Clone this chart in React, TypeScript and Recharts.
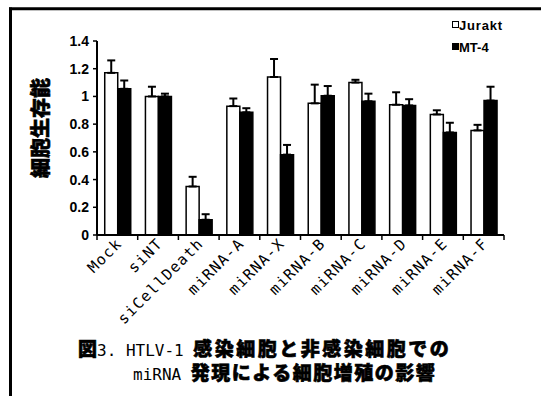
import { Bar, BarChart, ErrorBar, XAxis, YAxis } from "recharts";

const categories = [
  "Mock",
  "siNT",
  "siCellDeath",
  "miRNA-A",
  "miRNA-X",
  "miRNA-B",
  "miRNA-C",
  "miRNA-D",
  "miRNA-E",
  "miRNA-F",
];
const jurakt = [1.17, 1.0, 0.35, 0.93, 1.14, 0.95, 1.1, 0.94, 0.87, 0.755];
const juraktErr = [0.09, 0.07, 0.07, 0.055, 0.13, 0.135, 0.02, 0.09, 0.03, 0.04];
const mt4 = [1.055, 1.0, 0.11, 0.885, 0.58, 1.005, 0.965, 0.935, 0.74, 0.97];
const mt4Err = [0.06, 0.02, 0.04, 0.03, 0.07, 0.07, 0.055, 0.045, 0.07, 0.1];
const yTicks = [0, 0.2, 0.4, 0.6, 0.8, 1, 1.2, 1.4];

const data = categories.map((name, i) => ({
  name,
  jurakt: jurakt[i],
  juraktErr: [0, juraktErr[i]],
  mt4: mt4[i],
  mt4Err: [0, mt4Err[i]],
}));

const W = 541;
const H = 396;
const PLOT_LEFT = 97;
const PLOT_RIGHT = 504;
const PLOT_TOP = 41;
const PLOT_BOTTOM = 235;
const X_AXIS_H = 40;
const BAND = (PLOT_RIGHT - PLOT_LEFT) / categories.length;

const MONO = "'DejaVu Sans Mono', 'Liberation Mono', monospace";
const CJK = "'Noto Sans CJK JP', sans-serif";
const SANS = "'Liberation Sans', Arial, sans-serif";

function CategoryTick(props: any) {
  const { x, y, payload, index } = props;
  const last = index === categories.length - 1;
  return (
    <g>
      <line x1={x - BAND / 2} y1={y} x2={x - BAND / 2} y2={y + 5} stroke="#000" strokeWidth={1.5} />
      {last && (
        <line x1={x + BAND / 2} y1={y} x2={x + BAND / 2} y2={y + 5} stroke="#000" strokeWidth={1.5} />
      )}
      <g transform={`translate(${x + 2}, ${y + 6}) rotate(-45)`}>
        <text
          x={0}
          y={0}
          textAnchor="end"
          dominantBaseline="central"
          fontFamily={MONO}
          fontSize={15}
          letterSpacing={1.3}
          fill="#000"
        >
          {payload.value}
        </text>
      </g>
    </g>
  );
}

export default function App() {
  return (
    <div style={{ position: "absolute", left: 0, top: 0, width: W, height: H, background: "#fff" }}>
      <BarChart
        width={W}
        height={H}
        data={data}
        margin={{
          top: PLOT_TOP,
          right: W - PLOT_RIGHT,
          left: PLOT_LEFT - 60,
          bottom: H - PLOT_BOTTOM - X_AXIS_H,
        }}
        barCategoryGap="19%"
        barGap={0}
      >
        <XAxis
          dataKey="name"
          height={X_AXIS_H}
          interval={0}
          tickSize={0}
          tickMargin={0}
          tickLine={false}
          axisLine={{ stroke: "#000", strokeWidth: 2 }}
          tick={<CategoryTick />}
        />
        <YAxis
          width={60}
          domain={[0, 1.4]}
          ticks={yTicks}
          interval={0}
          tickSize={4}
          tickMargin={4}
          axisLine={{ stroke: "#000", strokeWidth: 2 }}
          tickLine={{ stroke: "#000", strokeWidth: 1.5 }}
          tick={{ fill: "#000", fontSize: 14, fontWeight: 700, fontFamily: SANS }}
        />
        <Bar dataKey="jurakt" fill="#fff" stroke="#000" strokeWidth={1.5} isAnimationActive={false}>
          <ErrorBar dataKey="juraktErr" width={4} stroke="#000" strokeWidth={2} isAnimationActive={false} />
        </Bar>
        <Bar dataKey="mt4" fill="#000" stroke="#000" strokeWidth={1.5} isAnimationActive={false}>
          <ErrorBar dataKey="mt4Err" width={4} stroke="#000" strokeWidth={2} isAnimationActive={false} />
        </Bar>
      </BarChart>
      <svg
        width={W}
        height={H}
        style={{ position: "absolute", left: 0, top: 0, pointerEvents: "none" }}
      >
        {/* frame */}
        <line x1={10.5} y1={7.5} x2={10.5} y2={H} stroke="#000" strokeWidth={3} />
        <line x1={9} y1={8.7} x2={W} y2={8.7} stroke="#000" strokeWidth={3} />

        {/* y axis title */}
        <text
          x={39}
          y={128}
          transform="rotate(-90 39 128)"
          textAnchor="middle"
          dominantBaseline="central"
          fontFamily={CJK}
          fontSize={20}
          fontWeight={900}
          stroke="#000"
          strokeWidth={0.6}
          fill="#000"
        >
          細胞生存能
        </text>

        {/* legend */}
        <rect x={452.5} y={21.5} width={6} height={6} fill="#fff" stroke="#000" strokeWidth={1} />
        <text x={459} y={29.5} fontFamily={SANS} fontSize={13} fontWeight={700} letterSpacing={0.8} fill="#000">
          Jurakt
        </text>
        <rect x={452} y={43} width={7} height={7} fill="#000" />
        <text x={459} y={51.5} fontFamily={SANS} fontSize={13} fontWeight={700} fill="#000">
          MT-4
        </text>

        {/* caption */}
        <text x={78} y={356} fill="#000">
          <tspan fontFamily={CJK} fontSize={19} fontWeight={900} stroke="#000" strokeWidth={0.6}>
            図
          </tspan>
          <tspan fontFamily={MONO} fontSize={16}>
            3. HTLV-1{" "}
          </tspan>
          <tspan fontFamily={CJK} fontSize={19} fontWeight={900} stroke="#000" strokeWidth={0.6} letterSpacing={2.5}>
            感染細胞と非感染細胞での
          </tspan>
        </text>
        <text x={133} y={380} fill="#000">
          <tspan fontFamily={MONO} fontSize={16}>
            miRNA{" "}
          </tspan>
          <tspan fontFamily={CJK} fontSize={19} fontWeight={900} stroke="#000" strokeWidth={0.6} letterSpacing={1.5}>
            発現による細胞増殖の影響
          </tspan>
        </text>
      </svg>
    </div>
  );
}
